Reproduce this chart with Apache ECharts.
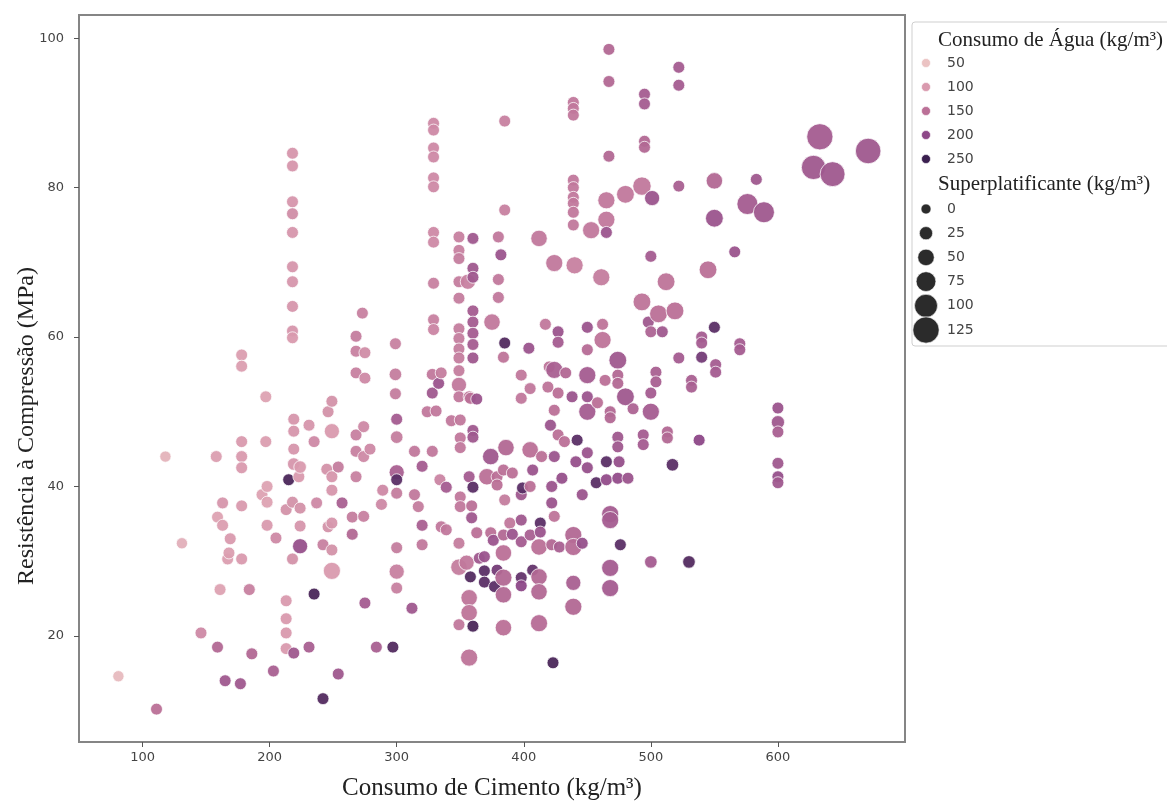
<!DOCTYPE html>
<html>
<head>
<meta charset="utf-8">
<script src="https://cdn.jsdelivr.net/npm/echarts@6/dist/echarts.min.js"></script>
<style>
  html, body { margin: 0; padding: 0; background: #fff; }
  #chart { width: 1167px; height: 801px; }
</style>
</head>
<body>
<div id="chart"></div>
<script>
// consumo de cimento (kg/m3)
const cimento = [
  81,111,118,131,146,158,159,159,161,163,
  163,165,167,168,169,177,178,178,178,178,
  178,178,178,184,186,194,197,197,198,198,
  198,203,205,213,213,213,213,213,215,218,
  218,218,218,218,218,218,218,218,218,218,
  218,219,219,219,219,219,223,224,224,224,
  224,231,231,235,235,237,242,242,245,246,
  246,249,249,249,249,249,249,249,254,254,
  257,265,265,268,268,268,268,268,268,273,
  274,274,274,275,275,275,279,284,288,289,
  297,299,299,299,300,300,300,300,300,300,
  300,300,312,314,314,317,320,320,320,324,
  328,328,328,329,329,329,329,329,329,329,
  329,329,329,329,331,333,334,335,335,339,
  339,343,349,349,349,349,349,349,349,349,
  349,349,349,349,349,349,349,350,350,350,
  350,350,355,356,357,357,357,357,357,358,
  358,359,359,360,360,360,360,360,360,360,
  360,360,360,360,360,363,363,365,369,369,
  369,371,374,374,375,376,377,379,379,379,
  380,380,380,382,384,384,384,384,384,384,
  384,385,385,385,385,386,389,391,391,398,
  398,398,398,398,398,398,399,404,405,405,
  405,405,407,407,412,412,412,412,412,413,
  413,414,417,419,420,421,422,422,422,423,
  424,424,424,424,424,427,427,427,427,428,
  430,432,433,438,439,439,439,439,439,439,
  439,439,439,439,439,439,439,440,441,442,
  446,446,450,450,450,450,450,450,450,453,
  457,458,461,462,462,464,465,465,465,465,
  465,467,467,467,468,468,468,468,468,468,
  474,474,474,474,474,474,475,476,480,480,
  482,486,493,493,494,494,495,495,495,495,
  498,500,500,500,500,500,501,504,504,506,
  509,512,513,513,517,519,522,522,522,522,
  530,532,532,538,540,540,540,545,550,550,
  550,551,551,566,570,570,576,583,589,600,
  600,600,600,600,600,628,633,643,671
]

// resistencia a compressao (MPa)
const resistencia = [
  14.6,10.2,44.0,32.4,20.4,44.0,35.9,18.5,26.2,37.8,
  34.8,14.0,30.3,31.1,33.0,13.6,57.6,56.1,46.0,44.0,
  42.5,37.4,30.3,26.2,17.6,38.9,52.0,46.0,40.0,37.9,
  34.8,15.3,33.1,36.9,24.7,22.3,20.4,18.3,40.9,84.6,
  82.9,78.1,76.5,74.0,69.4,67.4,64.1,60.8,59.9,37.9,
  30.3,49.0,47.4,45.0,43.0,17.7,41.3,42.6,37.1,34.7,
  32.0,48.2,18.5,46.0,25.6,37.8,32.2,11.6,42.3,50.0,
  34.6,51.4,47.4,41.3,39.5,35.1,31.5,28.7,42.6,14.9,
  37.8,35.9,33.6,60.1,58.1,55.2,46.9,44.7,41.3,63.2,
  48.0,44.0,36.0,57.9,54.5,24.4,45.0,18.5,37.6,39.5,
  18.5,59.1,55.0,52.4,49.0,46.6,41.9,40.9,39.1,31.8,
  28.6,26.4,23.7,44.7,38.9,37.3,42.7,34.8,32.2,50.0,
  55.0,52.5,44.7,88.6,87.7,85.3,84.1,81.3,80.1,74.0,
  72.7,67.2,62.3,61.0,50.1,53.8,40.9,55.2,34.6,39.9,
  34.2,48.8,73.4,71.6,70.5,67.4,65.2,61.1,59.8,58.4,
  57.2,55.5,53.6,52.0,32.4,29.2,21.5,48.9,46.5,45.2,
  38.6,37.3,29.8,67.4,52.0,41.3,25.1,23.1,17.1,51.8,
  27.9,37.4,35.8,73.2,69.2,68.0,63.5,62.0,60.5,59.0,
  57.2,47.5,46.6,39.9,21.3,51.7,33.8,30.4,28.7,27.2,
  30.6,41.3,44.0,33.8,62.0,32.8,26.6,41.3,40.2,28.8,
  73.4,67.7,65.3,71.0,57.3,42.2,33.5,31.1,27.8,25.5,
  21.1,88.9,77.0,59.2,38.2,45.2,35.1,41.8,33.6,54.9,
  51.8,38.9,35.5,32.6,27.8,26.7,39.8,58.5,53.1,44.9,
  40.0,33.5,42.2,28.8,73.2,31.9,27.9,25.9,21.7,35.1,
  33.9,44.0,61.7,53.3,56.0,48.2,37.8,40.0,32.2,16.4,
  69.9,55.6,50.2,44.0,36.0,60.7,59.3,52.5,46.9,31.9,
  41.1,46.0,55.2,52.0,91.4,90.6,89.7,81.0,80.0,78.7,
  77.9,76.7,75.0,33.5,31.9,27.1,23.9,69.6,43.3,46.2,
  38.9,32.4,61.3,58.3,54.9,52.0,50.0,44.5,42.5,74.3,
  40.5,51.2,68.0,61.7,59.6,54.2,78.3,75.7,74.0,43.3,
  40.9,98.5,94.2,84.2,50.0,49.2,36.3,35.5,29.1,26.4,
  56.9,54.9,53.8,46.6,45.3,41.1,43.3,32.2,79.1,52.0,
  41.1,50.4,80.2,64.7,46.9,45.6,92.5,91.2,86.2,85.4,
  62.0,70.8,60.7,52.5,50.0,29.9,78.6,55.3,54.0,63.1,
  60.7,67.4,47.3,46.5,42.9,63.5,96.1,93.7,80.2,57.2,
  29.9,54.2,53.3,46.2,60.0,59.2,57.3,69.0,80.9,75.9,
  61.3,56.3,55.3,71.4,59.1,58.3,77.8,81.1,76.7,50.5,
  48.6,47.3,43.1,41.3,40.5,82.7,86.8,81.8,84.9
]

// consumo de agua (kg/m3) -> cor
const agua = [
  60,150,70,75,120,95,90,160,90,105,
  95,180,95,95,100,180,95,95,100,100,
  100,100,100,130,160,90,90,95,90,90,
  100,170,120,110,100,100,100,100,240,105,
  105,105,115,105,105,105,105,105,100,110,
  110,105,105,105,105,180,100,100,110,105,
  190,105,170,120,240,120,130,235,110,110,
  110,110,100,105,105,105,110,100,135,180,
  170,135,160,135,130,130,130,130,130,130,
  120,120,130,115,120,175,120,170,120,120,
  235,130,135,135,175,135,170,230,135,135,
  130,130,180,140,140,135,175,170,140,140,
  140,180,140,120,120,120,120,120,120,120,
  120,130,130,125,140,185,125,135,140,175,
  140,140,130,130,135,135,135,135,135,135,
  135,135,140,140,135,135,140,140,140,140,
  140,140,140,130,140,175,145,145,145,150,
  235,150,180,180,180,180,175,175,175,175,
  180,180,180,230,240,185,150,180,230,230,
  185,150,180,150,140,185,230,150,150,215,
  140,140,140,185,145,150,160,150,160,160,
  150,130,130,235,135,160,140,150,185,140,
  140,180,180,175,225,200,230,185,140,150,
  150,170,185,225,140,150,160,160,155,230,
  185,150,140,145,145,185,185,185,160,240,
  140,170,150,185,145,185,175,150,150,170,
  190,150,160,185,140,140,140,140,140,140,
  140,140,140,160,155,170,160,130,190,230,
  185,190,185,155,175,185,175,185,190,140,
  230,150,135,145,145,150,140,140,185,230,
  195,160,160,160,160,160,175,175,175,175,
  180,160,160,180,180,195,190,230,140,180,
  185,165,140,145,175,175,175,175,160,160,
  180,175,165,175,175,175,185,170,170,150,
  180,145,160,160,230,150,175,175,170,175,
  235,170,170,200,175,175,215,150,160,185,
  230,175,175,185,175,175,175,180,180,185,
  180,170,180,190,180,180,175,180,180
]

// superplastificante (kg/m3) -> tamanho
const superplastificante = [
  10,15,10,10,15,15,15,15,15,15,
  15,15,15,15,15,15,15,15,15,15,
  15,15,15,15,15,15,15,15,15,15,
  15,15,15,15,15,15,15,15,15,15,
  15,15,15,15,15,15,15,15,15,15,
  15,15,15,15,20,15,15,20,15,15,
  40,15,15,15,15,15,15,15,15,15,
  15,15,40,15,15,15,15,55,15,15,
  15,15,15,15,15,15,15,15,15,15,
  15,15,15,15,15,15,15,15,15,15,
  15,15,20,15,15,20,40,15,15,15,
  40,15,15,15,15,15,15,15,15,15,
  15,15,15,15,15,15,15,15,15,15,
  15,15,15,15,15,15,15,15,15,15,
  15,15,15,15,15,15,15,15,15,15,
  15,15,40,15,15,50,15,15,15,15,
  15,15,40,40,15,15,50,50,55,15,
  15,15,15,15,15,15,15,15,15,15,
  15,15,15,15,15,15,15,15,15,15,
  15,50,50,15,50,15,15,15,15,15,
  15,15,15,15,15,15,15,50,55,50,
  50,15,15,15,15,50,15,15,15,15,
  15,15,15,15,15,15,15,15,15,50,
  15,15,15,15,50,50,50,50,55,15,
  15,15,15,15,15,15,15,15,15,15,
  55,55,15,15,15,15,15,15,15,15,
  15,15,15,15,15,15,15,15,15,15,
  15,15,15,55,55,40,55,55,15,15,
  15,15,15,15,55,15,55,15,15,55,
  15,15,55,15,55,15,55,55,15,15,
  15,15,15,15,15,15,55,55,55,55,
  60,15,15,15,15,15,15,15,60,60,
  15,15,65,60,15,15,15,15,15,15,
  15,15,15,15,55,20,40,15,15,60,
  15,60,15,15,20,60,15,15,15,15,
  20,15,15,15,15,15,15,60,50,60,
  15,15,15,15,15,15,85,15,85,15,
  25,15,15,15,15,110,125,115,120
]

const ticksX = [100, 200, 300, 400, 500, 600]
const ticksY = [20, 40, 60, 80, 100]
const aguaLegenda = [50, 100, 150, 200, 250]
const spLegenda = [0, 25, 50, 75, 100, 125]
const paleta = ['#ebc3c3', '#d99aae', '#bb7097', '#8d4888', '#3a1f4f']

const tamanho = sp => 10 + sp * 0.13

const chart = echarts.init(document.getElementById('chart'))

const dados = cimento.map((c, i) => [c, resistencia[i], agua[i], superplastificante[i]])

// legenda desenhada a mao (cor + tamanho)
const serif = '"Liberation Serif", "DejaVu Serif", serif'
const sans = '"DejaVu Sans", sans-serif'
const legenda = [
  {
    type: 'rect',
    shape: { x: 912, y: 22, width: 270, height: 324, r: 3 },
    style: { fill: '#fff', stroke: '#cfcfcf', lineWidth: 1 }
  },
  {
    type: 'text',
    style: { text: 'Consumo de Água (kg/m³)', x: 938, y: 40, font: '21px ' + serif, fill: '#222', verticalAlign: 'middle' }
  },
  {
    type: 'text',
    style: { text: 'Superplatificante (kg/m³)', x: 938, y: 184, font: '21px ' + serif, fill: '#222', verticalAlign: 'middle' }
  },
  {
    // titulo do eixo y (no original fica abaixo do centro do eixo)
    type: 'text',
    x: 27,
    y: 426,
    rotation: Math.PI / 2,
    style: { text: 'Resistência à Compressão (MPa)', font: '24px ' + serif, fill: '#222', align: 'center', verticalAlign: 'middle' }
  }
]
aguaLegenda.forEach((v, i) => {
  const y = 63 + i * 24
  legenda.push({ type: 'circle', shape: { cx: 926, cy: y, r: 4.5 }, style: { fill: paleta[i], stroke: '#fff', lineWidth: 0.6 } })
  legenda.push({ type: 'text', style: { text: String(v), x: 947, y: y, font: '14px ' + sans, fill: '#444', verticalAlign: 'middle' } })
})
spLegenda.forEach((v, i) => {
  const y = 209 + i * 24.2
  legenda.push({ type: 'circle', shape: { cx: 926, cy: y, r: tamanho(v) / 2 }, style: { fill: '#2b2b2b', stroke: '#fff', lineWidth: 0.6 } })
  legenda.push({ type: 'text', style: { text: String(v), x: 947, y: y, font: '14px ' + sans, fill: '#444', verticalAlign: 'middle' } })
})

const option = {
  animation: false,
  backgroundColor: '#fff',
  grid: {
    left: 79,
    right: 262,
    top: 15,
    bottom: 59,
    containLabel: false,
    outerBoundsMode: 'none',
    show: true,
    borderColor: '#858585',
    borderWidth: 2
  },
  xAxis: {
    type: 'value',
    min: 50,
    max: 700,
    name: 'Consumo de Cimento (kg/m³)',
    nameLocation: 'middle',
    nameGap: 34,
    nameTextStyle: { fontFamily: serif, fontSize: 25, color: '#222' },
    axisLine: { show: false },
    splitLine: { show: false },
    axisTick: { show: true, length: 5, customValues: ticksX, lineStyle: { color: '#555' } },
    axisLabel: { customValues: ticksX, fontFamily: sans, fontSize: 13, color: '#444', margin: 9 }
  },
  yAxis: {
    type: 'value',
    min: 5.8,
    max: 103.1,
    axisLine: { show: false },
    splitLine: { show: false },
    axisTick: { show: true, length: 5, customValues: ticksY, lineStyle: { color: '#555' } },
    axisLabel: { customValues: ticksY, fontFamily: sans, fontSize: 13, color: '#444', margin: 15 }
  },
  visualMap: {
    show: false,
    type: 'continuous',
    dimension: 2,
    min: 50,
    max: 250,
    seriesIndex: 0,
    inRange: { color: paleta }
  },
  series: [
    {
      type: 'scatter',
      data: dados,
      symbolSize: v => tamanho(v[3]),
      itemStyle: { borderColor: '#fff', borderWidth: 0.8, opacity: 0.95 }
    }
  ],
  graphic: legenda
}

chart.setOption(option)
window.addEventListener('resize', () => chart.resize())
</script>
</body>
</html>
